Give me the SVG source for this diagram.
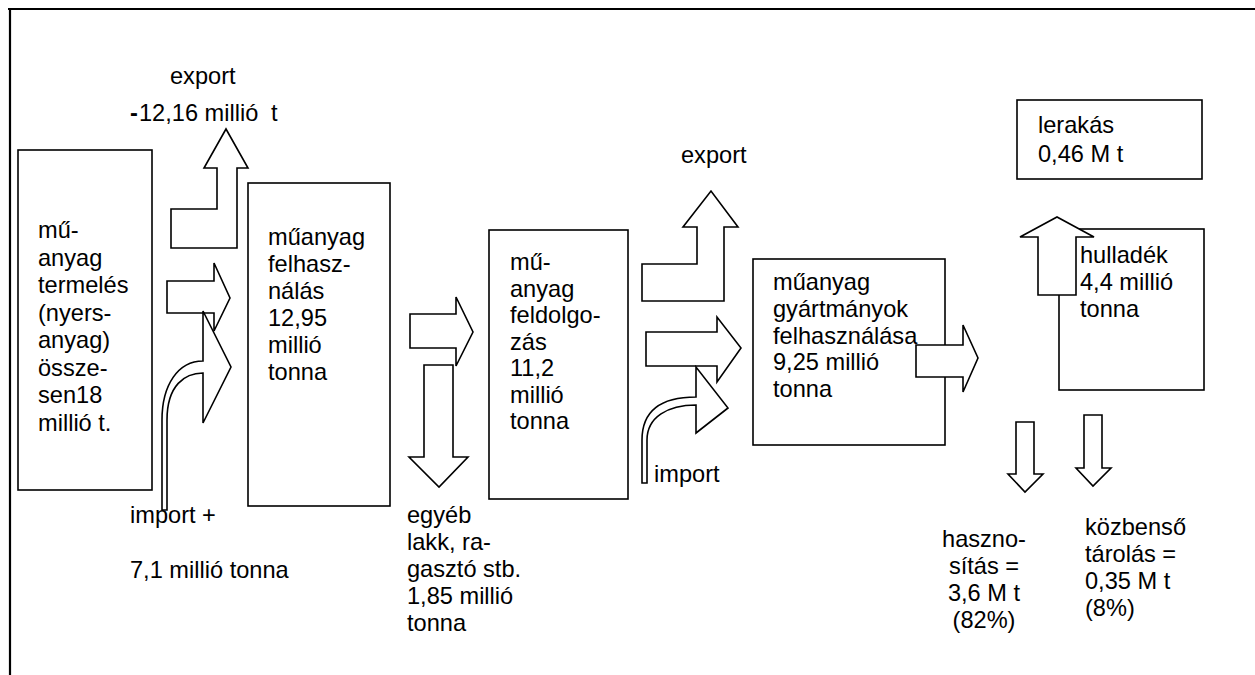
<svg xmlns="http://www.w3.org/2000/svg" width="1255" height="675" viewBox="0 0 1255 675">
<style>
  .box { fill: #ffffff; stroke: #000000; stroke-width: 1.6; }
  .arr { fill: #ffffff; stroke: #000000; stroke-width: 1.6; stroke-linejoin: miter; }
  .frame { stroke: #000000; stroke-width: 2.2; fill: none; }
  text { font-family: "Liberation Sans", Arial, sans-serif; font-size: 23.6px; fill: #000000; }
  .mid { text-anchor: middle; }
</style>
<rect x="0" y="0" width="1255" height="675" fill="#ffffff"/>
<g id="frame">
  <line class="frame" x1="8" y1="9" x2="1255" y2="9"/>
  <line class="frame" x1="10" y1="8" x2="10" y2="675"/>
</g>

<g id="connectors">
  <!-- export arrow 1 -->
  <polygon class="arr" points="171,248 171,209 217,209 217,168 204,168 226,129 248,168 237,168 237,248"/>
  <!-- right arrow 1 -->
  <polygon class="arr" points="167,281 214,281 214,263 230,298 214,331 214,313 167,313"/>
  <!-- curved import arrow 1 -->
  <path class="arr" d="M162,510 L162,420 C162,385 178,361 203,361 L203,311 L231,367 L203,423 L203,373 C185,373 167,385 167,420 L167,510 Z"/>
  <!-- right arrow 2 -->
  <polygon class="arr" points="410,314 456,314 456,297 473,332 456,366 456,348 410,348"/>
  <!-- down arrow egyéb -->
  <polygon class="arr" points="424,365 453,365 453,457 468,457 439,487 409,457 424,457"/>
  <!-- export arrow 2 -->
  <polygon class="arr" points="642,301 642,264 697,264 697,227 683,227 711,191 738,227 724,227 724,301"/>
  <!-- right arrow 3 -->
  <polygon class="arr" points="646,332 717,332 717,317 741,348 717,382 717,366 646,366"/>
  <!-- curved import arrow 2 -->
  <path class="arr" d="M642,483 L642,440 C642,412 660,397 696,397 L696,367 L728,408 L696,433 L696,405 C668,405 647,417 647,440 L647,483 Z"/>
  <!-- down arrows -->
  <polygon class="arr" points="1016,422 1034,422 1034,474 1043,474 1025,492 1008,474 1016,474"/>
  <polygon class="arr" points="1084,415 1102,415 1102,468 1111,468 1093,486 1076,468 1084,468"/>
</g>

<g id="n-export1">
  <text x="170" y="84">export</text>
  <text x="130" y="121"><tspan font-weight="bold">-</tspan><tspan x="139">12,16 millió</tspan><tspan x="271">t</tspan></text>
</g>

<g id="n-termeles">
  <rect class="box" x="18" y="150" width="134" height="340"/>
  <text x="38" y="238">mű-</text>
  <text x="38" y="265.5">anyag</text>
  <text x="38" y="293">termelés</text>
  <text x="38" y="320.5">(nyers-</text>
  <text x="38" y="348">anyag)</text>
  <text x="38" y="375.5">össze-</text>
  <text x="38" y="403">sen18</text>
  <text x="38" y="430.5">millió t.</text>
</g>

<g id="n-import1">
  <text x="130" y="523">import +</text>
  <text x="130" y="578">7,1 millió tonna</text>
</g>

<g id="n-felhasznalas">
  <rect class="box" x="248" y="183" width="142" height="323"/>
  <text x="268" y="245">műanyag</text>
  <text x="268" y="272">felhasz-</text>
  <text x="268" y="299">nálás</text>
  <text x="268" y="326">12,95</text>
  <text x="268" y="353">millió</text>
  <text x="268" y="380">tonna</text>
</g>

<g id="n-egyeb">
  <text x="407" y="523">egyéb</text>
  <text x="407" y="550">lakk, ra-</text>
  <text x="407" y="577">gasztó stb.</text>
  <text x="407" y="604">1,85 millió</text>
  <text x="407" y="631">tonna</text>
</g>

<g id="n-feldolgozas">
  <rect class="box" x="489" y="230" width="139" height="269"/>
  <text x="510" y="270">mű-</text>
  <text x="510" y="296.5">anyag</text>
  <text x="510" y="323">feldolgo-</text>
  <text x="510" y="349.5">zás</text>
  <text x="510" y="376">11,2</text>
  <text x="510" y="402.5">millió</text>
  <text x="510" y="429">tonna</text>
</g>

<g id="n-export2">
  <text x="681" y="163">export</text>
</g>

<g id="n-import2">
  <text x="654" y="482">import</text>
</g>

<g id="n-gyartmanyok">
  <rect class="box" x="753" y="259" width="192" height="186"/>
  <text x="773" y="290">műanyag</text>
  <text x="773" y="317">gyártmányok</text>
  <text x="773" y="343.5">felhasználása</text>
  <text x="773" y="370">9,25 millió</text>
  <text x="773" y="397">tonna</text>
</g>

<g id="arrow-out4">
  <polygon class="arr" points="916,345 963,345 963,325 978,358 963,392 963,377 916,377"/>
</g>

<g id="n-lerakas">
  <rect class="box" x="1017" y="100" width="185" height="79"/>
  <text x="1038" y="133">lerakás</text>
  <text x="1038" y="162">0,46 M t</text>
</g>

<g id="n-hulladek">
  <rect class="box" x="1059" y="229" width="145" height="161"/>
  <text x="1080" y="263">hulladék</text>
  <text x="1080" y="290">4,4 millió</text>
  <text x="1080" y="317">tonna</text>
</g>

<g id="arrow-up">
  <polygon class="arr" points="1038,295 1038,237 1020,237 1057,217 1094,237 1076,237 1076,295"/>
</g>

<g id="n-hasznositas">
  <text class="mid" x="984" y="547">haszno-</text>
  <text class="mid" x="984" y="574">sítás =</text>
  <text class="mid" x="984" y="601">3,6 M t</text>
  <text class="mid" x="984" y="628">(82%)</text>
</g>

<g id="n-kozbenso">
  <text x="1085" y="535">közbenső</text>
  <text x="1085" y="562">tárolás =</text>
  <text x="1085" y="589">0,35 M t</text>
  <text x="1085" y="616">(8%)</text>
</g>
</svg>
